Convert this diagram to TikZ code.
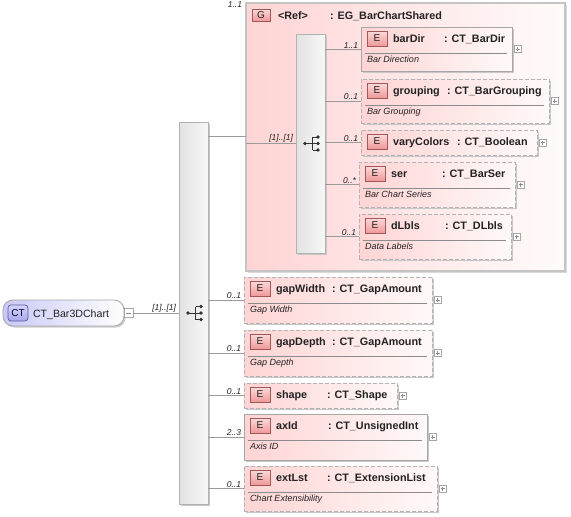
\documentclass[tikz,border=0pt]{standalone}
\usepackage{fontspec}
\setmainfont{Liberation Sans}
\usetikzlibrary{shadows,calc}
\definecolor{pinkL}{HTML}{FFD4D4}
\definecolor{pinkR}{HTML}{FFF9F9}
\definecolor{bordg}{HTML}{A6A6A6}
\definecolor{lineg}{HTML}{9A9A9A}
\definecolor{badgeT}{HTML}{FCDADA}
\definecolor{badgeB}{HTML}{F09898}
\definecolor{badgeD}{HTML}{A05858}
\definecolor{txt}{HTML}{222222}
\definecolor{lavL}{HTML}{C9C9F6}
\definecolor{ctT}{HTML}{D4D4FA}
\definecolor{ctB}{HTML}{A8A8EC}
\definecolor{ctD}{HTML}{5A5AA0}
\definecolor{seqL}{HTML}{E2E2E2}
\definecolor{seqR}{HTML}{F7F7F7}
\definecolor{grpB}{HTML}{C4C4C4}
\newcommand\xel[9]{%
  \node[elbox,#6,anchor=north west,minimum width={#4-#2},minimum height={#5-#3}] (#1) at (#2,#3) {};
  \node[ebadge,anchor=north west] (#1b) at ({#2+6},{#3+4}) {E};
  \node[nametxt,anchor=base west] (#1n) at ({#2+32},{#3+15.5}) {#7};
  \node[nametxt,anchor=base west] (#1t) at (#8,{#3+15.5}) {#9};
  \node[plusbox,anchor=west] (#1p) at ([xshift=2pt]#1.east) {};
  \draw[plusline] ([xshift=-2pt]#1p.center) -- ([xshift=2pt]#1p.center);
  \draw[plusline] ([yshift=-2pt]#1p.center) -- ([yshift=2pt]#1p.center);
}
\newcommand\xdesc[4]{%
  \draw[sepline] ({#1+4},{#2+26}) -- ({#3-5},{#2+26});
  \node[desctxt,anchor=base west] at ({#1+6},{#2+35}) {#4};
}
\newcommand\xconn[3]{%
  \draw[conn] (#1.east |- #2.west) -- (#2.west) node[lbl,pos=1,anchor=south east,xshift=-3pt,yshift=1pt] {#3};
}
\newcommand\seqicon[1]{%
  \begin{scope}[shift={(#1.center)}]
    \draw[iconl] (-5.5,0) -- (2,0);
    \draw[iconl] (2,-6.5) -- (2,6.5);
    \fill[iconc] (-5.5,0) circle (1.9pt);
    \foreach \yy in {-6.5,0,6.5} {
      \draw[iconl] (2,\yy) -- (7.5,\yy);
      \fill[iconc] (7.5,\yy) circle (1.9pt);
    }
  \end{scope}}
\begin{document}
\begin{tikzpicture}[x=1pt,y=-1pt,
  every node/.style={inner sep=0pt,outer sep=0pt},
  elbox/.style={rectangle,draw=bordg,line width=0.8pt,left color=pinkL,right color=pinkR,
    drop shadow={shadow xshift=1.6pt,shadow yshift=-1.6pt,fill=black!22,opacity=1}},
  solidb/.style={draw=bordg},
  dashb/.style={draw=bordg!85,dash pattern=on 4pt off 2pt,
    drop shadow={shadow xshift=1.2pt,shadow yshift=-1.2pt,fill=black!10,opacity=1}},
  ebadge/.style={rectangle,draw=badgeD,line width=0.6pt,top color=badgeT,bottom color=badgeB,
    minimum width=20,minimum height=15,font=\fontsize{10}{12}\selectfont,text=txt},
  nametxt/.style={font=\fontsize{10.8}{12}\selectfont\bfseries,text=txt},
  desctxt/.style={font=\fontsize{9}{10}\selectfont\itshape,text=txt},
  lbl/.style={font=\fontsize{8.5}{10}\selectfont\itshape,text=txt},
  plusbox/.style={rectangle,draw=bordg,fill=white,line width=0.5pt,minimum width=7,minimum height=7},
  plusline/.style={draw=black!45,line width=0.5pt},
  sepline/.style={draw=black!45,line width=0.6pt},
  conn/.style={draw=lineg,line width=0.8pt},
  seqbox/.style={rectangle,draw=black!30,line width=0.8pt,left color=seqL,right color=seqR,
    drop shadow={shadow xshift=1.6pt,shadow yshift=-1.6pt,fill=black!22,opacity=1}},
  iconl/.style={draw=black!80,line width=0.8pt},
  iconc/.style={fill=black!80},
  grpbox/.style={rectangle,draw=grpB,line width=1.6pt,left color=pinkL,right color=pinkR!60!white,
    drop shadow={shadow xshift=1.6pt,shadow yshift=-1.6pt,fill=black!15,opacity=1}},
  rootbox/.style={rectangle,rounded corners=10pt,draw=black!35,line width=0.8pt,left color=lavL,right color=white,
    drop shadow={shadow xshift=1.6pt,shadow yshift=-1.6pt,fill=black!20,opacity=1}},
  ctbadge/.style={rectangle,rounded corners=3pt,draw=ctD,line width=0.7pt,top color=ctT,bottom color=ctB,
    minimum width=20,minimum height=16,font=\fontsize{10}{12}\selectfont,text=black!80!blue},
  gbadge/.style={ebadge,minimum width=18,minimum height=12}
]
\useasboundingbox (0,0) rectangle (571,517);

% root
\node[rootbox,anchor=north west,minimum width=121,minimum height=26] (root) at (3,300) {};
\node[ctbadge,anchor=north west] (ctb) at (8,305) {CT};
\node[nametxt,font=\fontsize{10.6}{12}\selectfont,anchor=base west] (rootn) at (33,317) {CT\_Bar3DChart};
\node[plusbox,minimum width=9,minimum height=9,anchor=west] (minus) at (root.east) {};
\draw[plusline] ([xshift=-2.5pt]minus.center) -- ([xshift=2.5pt]minus.center);

% main sequence
\node[seqbox,anchor=north west,minimum width=29,minimum height=382] (seqm) at (179,122) {};
\seqicon{seqm}
\draw[conn] (minus.east) -- (minus.east -| seqm.west) node[lbl,pos=1,anchor=south east,xshift=-3pt,yshift=1pt] {[1]..[1]};

% group
\node[grpbox,anchor=north west,minimum width=319,minimum height=268] (grp) at (246,3) {};
\node[gbadge,anchor=north west] (gb) at (252,9) {G};
\node[nametxt,anchor=base west] (gref) at (278,19) {<Ref>};
\node[nametxt,anchor=base west] (gtype) at (330,19) {: EG\_BarChartShared};
\node[lbl,anchor=base east] (glbl) at (242,7) {1..1};
\coordinate (grpin) at (246,136);
\draw[conn] (seqm.east |- grpin) -- (grpin);

% inner sequence
\node[seqbox,anchor=north west,minimum width=29,minimum height=219] (seqi) at (296,34) {};
\seqicon{seqi}
\draw[conn] (grp.west |- seqi.center) -- (seqi.west |- seqi.center) node[lbl,pos=1,anchor=south east,xshift=-3pt,yshift=1pt] {[1]..[1]};

% inner elements
\xel{bd}{361}{27}{512}{71}{solidb}{barDir}{444}{: CT\_BarDir}
\xdesc{361}{27}{512}{Bar Direction}
\xconn{seqi}{bd}{1..1}

\xel{gr}{361}{79}{549}{123}{dashb}{grouping}{447}{: CT\_BarGrouping}
\xdesc{361}{79}{549}{Bar Grouping}
\xconn{seqi}{gr}{0..1}

\xel{vc}{361}{130}{537}{155}{dashb}{varyColors}{457}{: CT\_Boolean}
\xconn{seqi}{vc}{0..1}

\xel{se}{359}{162}{515}{207}{dashb}{ser}{442}{: CT\_BarSer}
\xdesc{359}{162}{515}{Bar Chart Series}
\xconn{seqi}{se}{0..*}

\xel{dl}{359}{214}{511}{259}{dashb}{dLbls}{445}{: CT\_DLbls}
\xdesc{359}{214}{511}{Data Labels}
\xconn{seqi}{dl}{0..1}

% main elements
\xel{gw}{244}{277}{432}{323}{dashb}{gapWidth}{332}{: CT\_GapAmount}
\xdesc{244}{277}{432}{Gap Width}
\xconn{seqm}{gw}{0..1}

\xel{gd}{244}{330}{432}{376}{dashb}{gapDepth}{332}{: CT\_GapAmount}
\xdesc{244}{330}{432}{Gap Depth}
\xconn{seqm}{gd}{0..1}

\xel{sh}{244}{383}{397}{408}{dashb}{shape}{327}{: CT\_Shape}
\xconn{seqm}{sh}{0..1}

\xel{ax}{244}{414}{427}{460}{solidb}{axId}{328}{: CT\_UnsignedInt}
\xdesc{244}{414}{427}{Axis ID}
\xconn{seqm}{ax}{2..3}

\xel{el}{244}{466}{437}{511}{dashb}{extLst}{327}{: CT\_ExtensionList}
\xdesc{244}{466}{437}{Chart Extensibility}
\xconn{seqm}{el}{0..1}
\end{tikzpicture}
\end{document}
